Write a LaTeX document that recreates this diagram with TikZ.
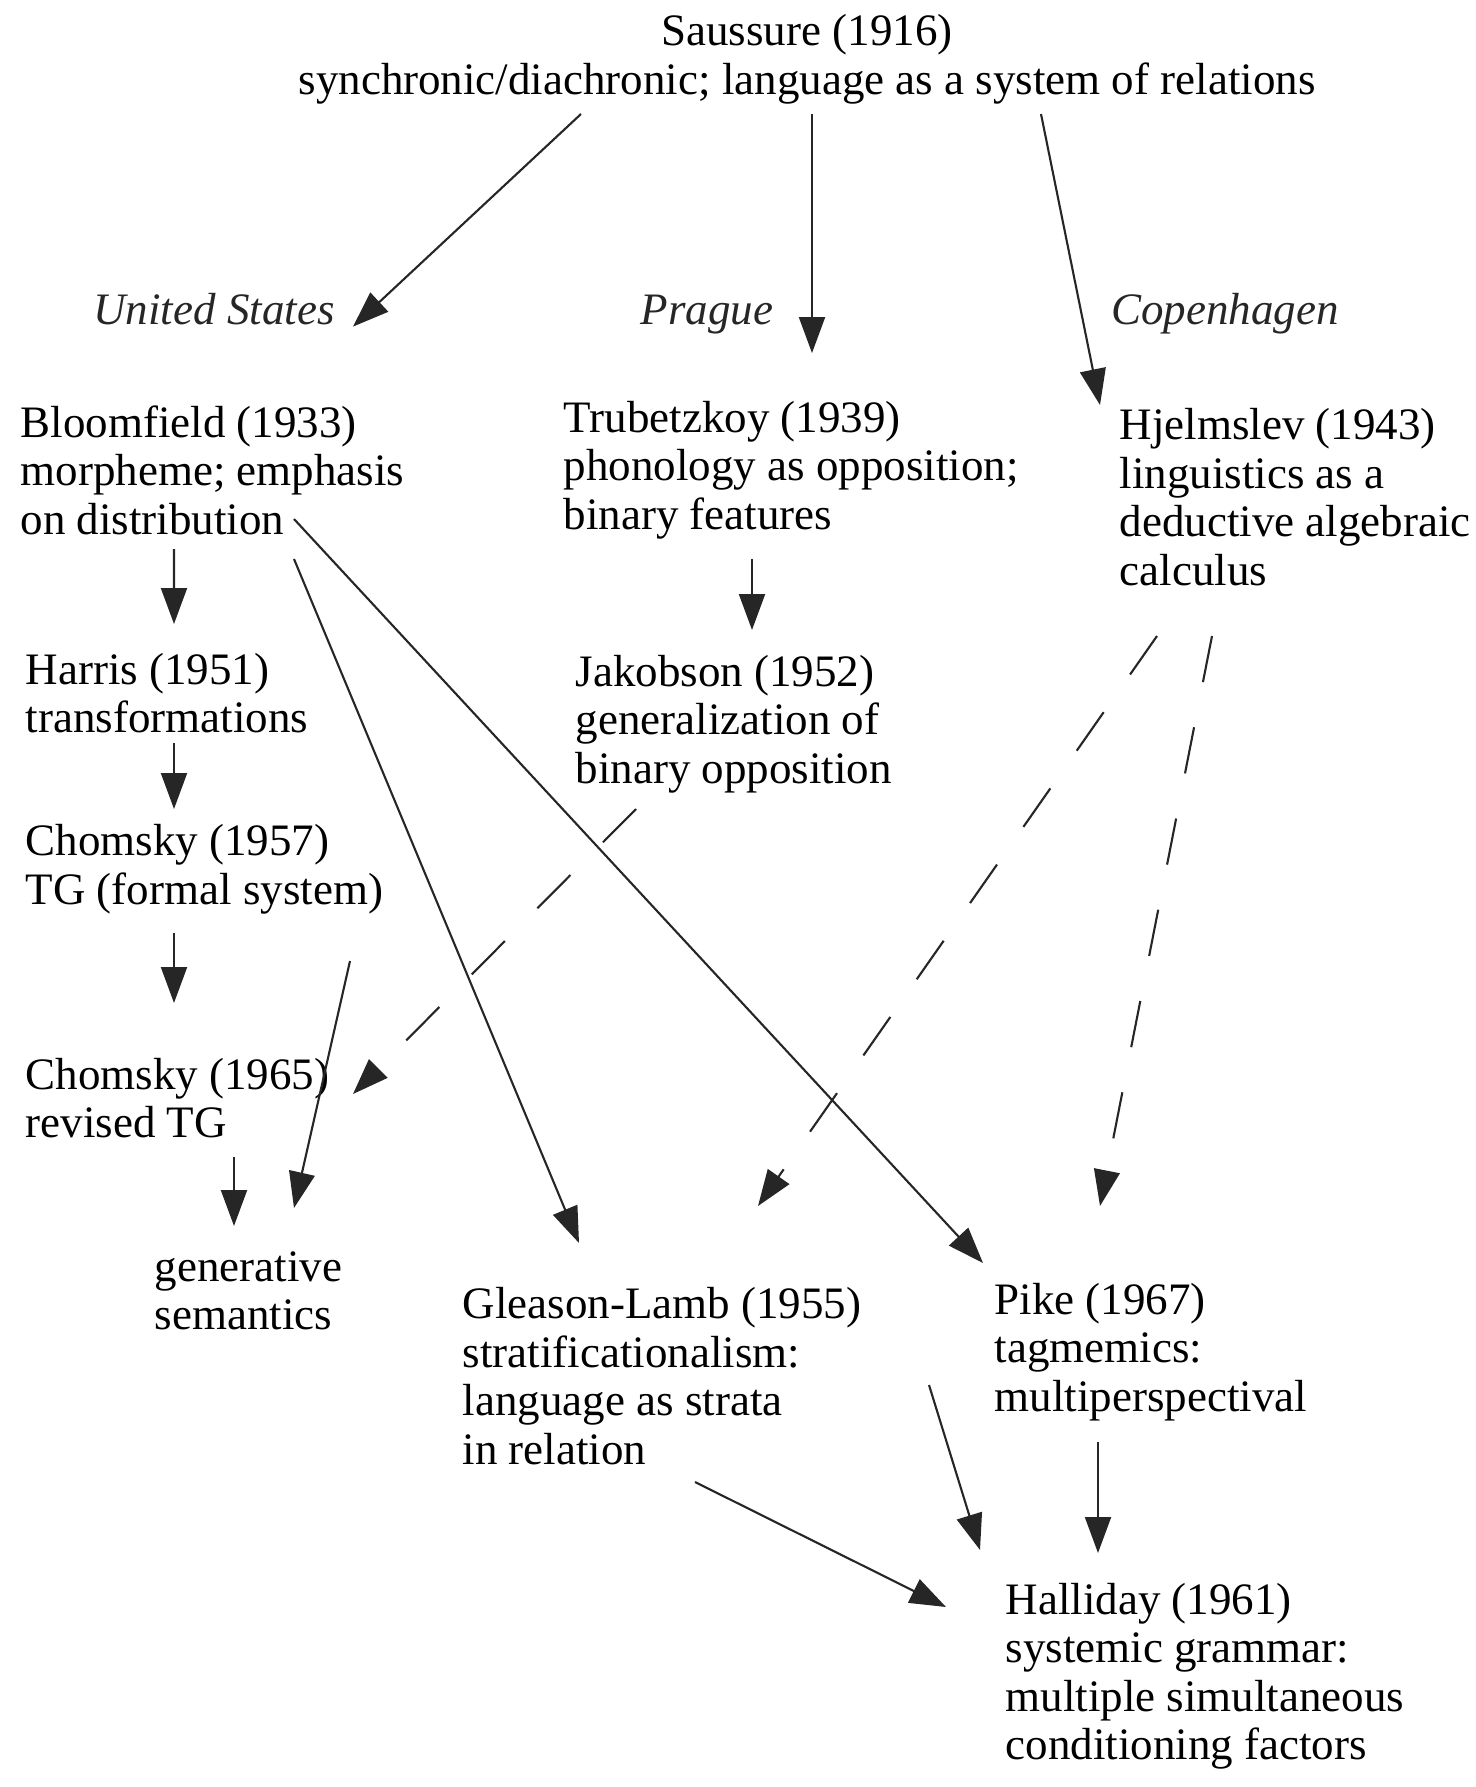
\documentclass[tikz,border=0pt]{standalone}
\usepackage{fontspec}
\setmainfont{Liberation Serif}
\usetikzlibrary{positioning, arrows.meta, calc}

\begin{document}
\begin{tikzpicture}[
    >={Triangle[length=3.6mm, width=2.6mm]},
    txt/.style={anchor=west, align=left, inner sep=0pt,
                font=\fontsize{12.8}{13.8}\selectfont},
    school/.style={anchor=base, inner sep=0pt, text=black!85,
                font=\fontsize{12.8}{13.8}\selectfont\itshape},
    arrow/.style={->, line width=0.6pt, black!85},
    darrow/.style={arrow, dash pattern=on 4.7mm off 4.6mm},
]
\useasboundingbox (0,0) rectangle (14.75,-17.87);

% === Saussure and the three schools ===
\node[txt, anchor=center, align=center] (saussure) at (8.07,-0.59)
    {Saussure (1916)\\synchronic/diachronic; language as a system of relations};
\node[school] (us) at (2.14,-3.24) {United States};
\node[school] (prague) at (7.07,-3.24) {Prague};
\node[school] (copen) at (12.25,-3.24) {Copenhagen};

% === United States ===
\node[txt] (bloom) at (0.20,-4.70) {Bloomfield (1933)\\morpheme; emphasis\\on distribution};
\node[txt] (harris) at (0.25,-6.93) {Harris (1951)\\transformations};
\node[txt] (chom57) at (0.25,-8.69) {Chomsky (1957)\\TG (formal system)};
\node[txt] (chom65) at (0.25,-10.98) {Chomsky (1965)\\revised TG};
\node[txt] (gensem) at (1.54,-12.91) {generative\\semantics};

% === Prague ===
\node[txt] (trub) at (5.63,-4.70) {Trubetzkoy (1939)\\phonology as opposition;\\binary features};
\node[txt] (jakob) at (5.75,-7.24) {Jakobson (1952)\\generalization of\\binary opposition};

% === Copenhagen ===
\node[txt] (hjelm) at (11.19,-4.97) {Hjelmslev (1943)\\linguistics as a\\deductive algebraic\\calculus};

% === later work ===
\node[txt] (gleason) at (4.62,-13.76) {Gleason-Lamb (1955)\\stratificationalism:\\language as strata\\in relation};
\node[txt] (pike) at (9.94,-13.52) {Pike (1967)\\tagmemics:\\multiperspectival};
\node[txt] (halli) at (10.05,-16.76) {Halliday (1961)\\systemic grammar:\\multiple simultaneous\\conditioning factors};

% from Saussure
\draw[arrow] ($(saussure)+(-2.26,-0.55)$) -- ($(us)+(1.39,-0.18)$);
\draw[arrow] ($(saussure)+(0.05,-0.55)$) -- ($(prague)+(1.05,-0.39)$);
\draw[arrow] ($(saussure)+(2.34,-0.55)$) -- ($(hjelm.west)+(-0.19,0.92)$);

% United States line
\draw[arrow] ($(bloom.west)+(1.54,-0.79)$) -- ($(harris.west)+(1.49,0.69)$);
\draw[arrow] ($(harris.west)+(1.49,-0.50)$) -- ($(chom57.west)+(1.49,0.60)$);
\draw[arrow] ($(chom57.west)+(1.49,-0.64)$) -- ($(chom65.west)+(1.49,0.95)$);
\draw[arrow] ($(chom65.west)+(2.09,-0.59)$) -- ($(gensem.west)+(0.80,0.65)$);
\draw[arrow] ($(chom57.west)+(3.25,-0.92)$) -- ($(gensem.west)+(1.40,0.83)$);
\draw[arrow] ($(bloom.west)+(2.74,-0.89)$) -- ($(gleason.west)+(1.17,1.33)$);
\draw[arrow] ($(bloom.west)+(2.74,-0.49)$) -- ($(pike.west)+(-0.11,0.89)$);

% Prague line
\draw[arrow] ($(trub.west)+(1.89,-0.89)$) -- ($(jakob.west)+(1.77,0.94)$);
\draw[darrow] ($(jakob.west)+(0.61,-0.85)$) -- ($(chom65.west)+(3.28,0.04)$);

% Copenhagen line
\draw[darrow] ($(hjelm.west)+(0.38,-1.39)$) -- ($(gleason.west)+(2.96,1.70)$);
\draw[darrow] ($(hjelm.west)+(0.93,-1.39)$) -- ($(pike.west)+(1.06,1.46)$);

% into Halliday
\draw[arrow] ($(gleason.west)+(2.33,-1.06)$) -- ($(halli.west)+(-0.59,0.69)$);
\draw[arrow] ($(gleason.west)+(4.67,-0.09)$) -- ($(halli.west)+(-0.25,1.26)$);
\draw[arrow] ($(pike.west)+(1.04,-0.90)$) -- ($(halli.west)+(0.93,1.23)$);

\end{tikzpicture}
\end{document}
